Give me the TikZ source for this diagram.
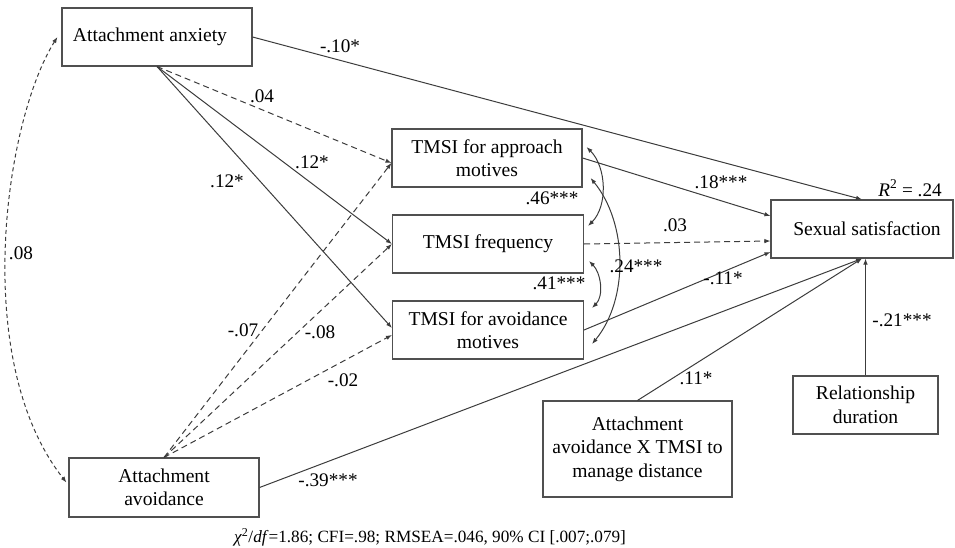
\documentclass[tikz,border=0pt]{standalone}
\usepackage{fontspec}
\setmainfont{Liberation Serif}
\usetikzlibrary{arrows.meta,positioning}
\definecolor{pathline}{HTML}{3C3C3C}
\definecolor{boxline}{HTML}{505050}
\tikzstyle{var} = [rectangle, draw=boxline, line width=1.1pt, fill=white, align=center,
    minimum height=58pt, inner sep=2pt, font=\fontsize{19.6}{23.5}\selectfont]
\tikzstyle{effect} = [-{Latex[length=6pt,width=4.5pt]}, draw=pathline, line width=1pt]
\tikzstyle{nseffect} = [effect, dash pattern=on 6pt off 4pt]
\tikzstyle{covar} = [{Latex[length=6pt,width=4.5pt]}-{Latex[length=6pt,width=4.5pt]}, draw=pathline, line width=1pt]
\tikzstyle{coef} = [inner sep=1pt, font=\fontsize{19.2}{22}\selectfont]

\begin{document}
\begin{tikzpicture}[x=1pt,y=-1pt]
\useasboundingbox (0,0) rectangle (955,548);
\node[var, minimum width=190pt] (anx) at (157,37) {\hspace*{-14pt}Attachment anxiety};
\node[var, minimum width=190pt] (appr) at (487,158) {TMSI for approach\\motives};
\node[var, minimum width=191pt] (freq) at (488,244) {TMSI frequency};
\node[var, minimum width=191pt] (avmot) at (488,330) {TMSI for avoidance\\motives};
\node[var, minimum width=182pt] (sat) at (862,229) {\hspace*{10pt}Sexual satisfaction};
\node[var, minimum width=190pt, minimum height=59pt] (avd) at (164,487.5) {Attachment\\avoidance};
\node[var, minimum width=189pt, minimum height=96pt] (inter) at (637.5,449) {Attachment\\avoidance X TMSI to\\manage distance};
\node[var, minimum width=145pt] (dur) at (865.5,405) {Relationship\\duration};

\draw[effect] (anx.east) -- (sat.north);
\draw[nseffect] (anx.south) -- ([yshift=-5pt]appr.west);
\draw[effect] (anx.south) -- (freq.west);
\draw[effect] (anx.south) -- ([yshift=2pt]avmot.west);
\draw[nseffect] (avd.north) -- ([yshift=-5pt]appr.west);
\draw[nseffect] (avd.north) -- (freq.west);
\draw[nseffect] (avd.north) -- ([yshift=-5pt]avmot.west);
\draw[effect] (avd.east) -- (sat.south);
\draw[effect] (appr.east) -- ([yshift=13pt]sat.west);
\draw[nseffect] (freq.east) -- ([yshift=-12pt]sat.west);
\draw[effect] (avmot.east) -- ([yshift=-23pt]sat.west);
\draw[effect] (inter.north) -- (sat.south);
\draw[effect] (dur.north) -- (dur.north |- sat.south);

\draw[covar, dash pattern=on 4pt off 3pt] ([xshift=-4pt]anx.west) .. controls (5,120) and (-30,360) .. ([xshift=-2pt,yshift=5pt]avd.west);
\draw[covar] ([xshift=4pt,yshift=11pt]appr.east) .. controls +(20,20) and +(20,-20) .. ([xshift=4pt,yshift=18pt]freq.east);
\draw[covar] ([xshift=5pt,yshift=-17pt]freq.east) .. controls +(12,12) and +(12,-12) .. ([xshift=8pt,yshift=22pt]avmot.east);
\draw[covar] ([xshift=8pt,yshift=-20pt]appr.east) .. controls +(37,45) and +(37,-45) .. ([xshift=8pt,yshift=-14pt]avmot.east);

\node[coef] (c1) at (340,46) {-.10*};
\node[coef] (c2) at (262,96) {.04};
\node[coef] (c3) at (312,162) {.12*};
\node[coef] (c4) at (227,181) {.12*};
\node[coef] (c5) at (21,253) {.08};
\node[coef] (c6) at (243,330) {-.07};
\node[coef] (c7) at (320,332) {-.08};
\node[coef] (c8) at (343,380) {-.02};
\node[coef] (c9) at (328,480) {-.39***};
\node[coef] (c10) at (721,182) {.18***};
\node[coef] (c11) at (675,225) {.03};
\node[coef] (c12) at (723,278) {-.11*};
\node[coef] (c13) at (696,378) {.11*};
\node[coef] (c14) at (902,320) {-.21***};
\node[coef] (c15) at (552,198) {.46***};
\node[coef] (c16) at (559,283) {.41***};
\node[coef] (c17) at (636,266) {.24***};
\node[coef] (rsq) at (910,188) {\textit{R}\textsuperscript{2} = .24};
\node[inner sep=1pt, font=\fontsize{17.2}{20}\selectfont] (gof) at (430,537)
  {\textit{χ}\textsuperscript{2}/\textit{df}=1.86; CFI=.98; RMSEA=.046, 90\% CI [.007;.079]};
\end{tikzpicture}
\end{document}
